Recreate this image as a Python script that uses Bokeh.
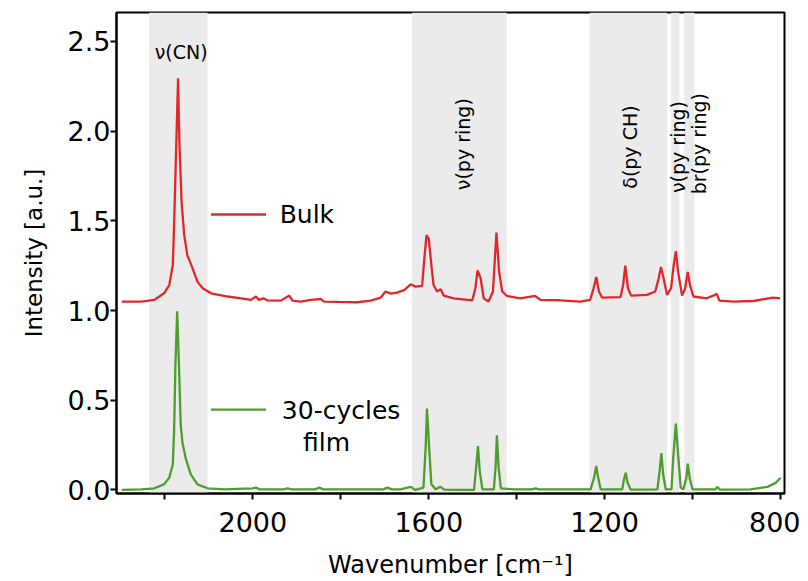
import math
from bokeh.plotting import figure
from bokeh.models import Range1d, BoxAnnotation, Label, FixedTicker, PrintfTickFormatter
from bokeh.embed import file_html
from bokeh.resources import INLINE

# ---------------- data ----------------
bulk_wn = [2298, 2254, 2224, 2202, 2190, 2182, 2179, 2175, 2170, 2167, 2162, 2156, 2149, 2137,
           2126, 2114, 2095, 2057, 2027, 2004, 1993, 1986, 1976, 1967, 1936, 1917, 1910, 1891,
           1868, 1845, 1838, 1807, 1762, 1732, 1709, 1698, 1686, 1672, 1656, 1641, 1630, 1615,
           1610, 1605, 1600, 1594, 1589, 1581, 1573, 1566, 1543, 1501, 1494, 1489, 1482, 1475,
           1464, 1454, 1446, 1440, 1433, 1422, 1392, 1358, 1346, 1301, 1255, 1233, 1225, 1219,
           1213, 1206, 1164, 1158, 1153, 1147, 1140, 1104, 1085, 1077, 1072, 1066, 1058, 1049,
           1043, 1038, 1033, 1024, 1017, 1011, 1006, 998, 968, 949, 945, 939, 907, 862, 817, 801]
bulk_int = [1.050, 1.050, 1.059, 1.096, 1.142, 1.253, 1.476, 1.846, 2.294, 1.939, 1.606, 1.420, 1.309, 1.235,
            1.161, 1.124, 1.096, 1.078, 1.068, 1.059, 1.078, 1.059, 1.068, 1.057, 1.055, 1.083, 1.055, 1.050,
            1.059, 1.064, 1.050, 1.048, 1.046, 1.055, 1.072, 1.106, 1.094, 1.100, 1.114, 1.146, 1.133, 1.137,
            1.290, 1.420, 1.400, 1.253, 1.142, 1.106, 1.118, 1.083, 1.068, 1.057, 1.124, 1.224, 1.180, 1.068,
            1.050, 1.106, 1.435, 1.217, 1.106, 1.081, 1.068, 1.081, 1.059, 1.057, 1.050, 1.059, 1.124, 1.187,
            1.106, 1.072, 1.074, 1.142, 1.250, 1.124, 1.083, 1.087, 1.106, 1.180, 1.242, 1.180, 1.087, 1.124,
            1.253, 1.331, 1.217, 1.083, 1.124, 1.215, 1.142, 1.078, 1.068, 1.087, 1.093, 1.055, 1.050, 1.053, 1.072, 1.068]

film_wn = [2298, 2254, 2224, 2202, 2190, 2182, 2179, 2176, 2172, 2168, 2164, 2160, 2152, 2141,
           2126, 2103, 2065, 2001, 1993, 1985, 1930, 1921, 1912, 1858, 1849, 1840, 1760, 1704,
           1694, 1684, 1664, 1641, 1630, 1612, 1607,
           1604, 1599, 1594, 1584, 1574, 1565, 1497, 1493, 1488, 1484, 1478, 1452, 1448, 1445,
           1441, 1436, 1406, 1365, 1357, 1349, 1232, 1224, 1219, 1214, 1209, 1160, 1156, 1152, 1148, 1141,
           1080, 1075, 1071, 1067, 1061, 1048, 1044, 1038, 1033, 1027, 1021, 1014, 1011, 1006,
           1000, 948, 944, 938, 868, 830, 811, 800]
film_int = [0.000, 0.003, 0.009, 0.031, 0.068, 0.142, 0.328, 0.698, 0.995, 0.698, 0.364, 0.263, 0.170, 0.087,
            0.031, 0.009, 0.003, 0.009, 0.013, 0.003, 0.003, 0.009, 0.003, 0.003, 0.013, 0.003, 0.003, 0.003,
            0.013, 0.003, 0.003, 0.017, 0.000, 0.013, 0.235,
            0.453, 0.235, 0.031, 0.003, 0.018, 0.002, 0.000, 0.105, 0.244, 0.105, 0.003, 0.003, 0.124, 0.305,
            0.124, 0.009, 0.003, 0.003, 0.009, 0.003, 0.003, 0.068, 0.133, 0.059, 0.003, 0.003, 0.059, 0.096, 0.041, 0.002,
            0.003, 0.105, 0.205, 0.087, 0.003, 0.003, 0.180, 0.370, 0.198, 0.013, 0.003, 0.068, 0.146, 0.059,
            0.003, 0.003, 0.017, 0.002, 0.003, 0.017, 0.039, 0.068]

band_left = [2236, 1638, 1234, 1049, 1019]
band_right = [2103, 1423, 1058, 1030, 996]
band_labels = ["ν(CN)", "ν(py ring)", "δ(py CH)", "ν(py ring)", "br(py ring)"]

series_names = ["Bulk", "30-cycles", "film"]
x_ticks = [2000, 1600, 1200, 800]
x_minor_ticks = [2200, 1800, 1400, 1000]
y_ticks = [0.0, 0.5, 1.0, 1.5, 2.0, 2.5]

# ---------------- styling ----------------
RED = "#e2272b"
GREEN = "#4f9c2f"
BAND = "#ebebeb"
FONT = "DejaVu Sans"

p = figure(width=800, height=581, output_backend="svg", toolbar_location=None,
           x_range=Range1d(2310, 791), y_range=Range1d(-0.02, 2.661))
p.min_border_left = 116
p.min_border_right = 16
p.min_border_top = 12
p.min_border_bottom = 87
p.background_fill_color = "white"
p.border_fill_color = "white"
p.outline_line_color = "black"
p.outline_line_width = 2
p.grid.visible = False

for l, r in zip(band_left, band_right):
    p.add_layout(BoxAnnotation(left=l, right=r, fill_color=BAND, fill_alpha=1.0,
                               line_color=None, level="underlay"))

p.line(bulk_wn, bulk_int, line_color=RED, line_width=2.3)
p.line(film_wn, film_int, line_color=GREEN, line_width=2.3)

# axes
p.xaxis.ticker = FixedTicker(ticks=x_ticks, minor_ticks=x_minor_ticks)
p.yaxis.ticker = FixedTicker(ticks=y_ticks)
p.yaxis.formatter = PrintfTickFormatter(format="%.1f")
for ax in (p.xaxis, p.yaxis):
    ax.axis_line_width = 2
    ax.major_tick_line_width = 2
    ax.minor_tick_line_width = 2
    ax.major_tick_in = 0
    ax.minor_tick_in = 0
    ax.major_label_text_font = FONT
    ax.major_label_text_font_size = "27px"
    ax.major_label_text_color = "black"
    ax.axis_label_text_font = FONT
    ax.axis_label_text_font_size = "24px"
    ax.axis_label_text_font_style = "normal"
    ax.axis_label_text_color = "black"
p.yaxis.axis_label_text_font_size = "23px"
p.xaxis.major_tick_out = 6
p.xaxis.minor_tick_out = 6
p.yaxis.major_tick_out = 6
p.yaxis.minor_tick_out = 0
p.xaxis.major_label_standoff = 12
p.yaxis.major_label_standoff = 0
p.xaxis.axis_label = "Wavenumber [cm⁻¹]"
p.yaxis.axis_label = "Intensity [a.u.]"
p.xaxis.axis_label_standoff = 16
p.yaxis.axis_label_standoff = 18

# band labels
lab_x = [2163, 1521, 1143, 1034, 986]
lab_y = [2.44, 1.927, 1.911, 1.911, 1.93]
lab_ang = [0, math.pi / 2, math.pi / 2, math.pi / 2, math.pi / 2]
for t, x, y, a in zip(band_labels, lab_x, lab_y, lab_ang):
    p.add_layout(Label(x=x, y=y, text=t, angle=a, text_align="center", text_baseline="middle",
                       text_font=FONT, text_font_size="19px", text_color="black"))

# in-plot legend
p.line([2095, 1970], [1.535, 1.535], line_color=RED, line_width=2.3)
p.line([2095, 1970], [0.448, 0.448], line_color=GREEN, line_width=2.3)
for t, x, y in zip(series_names, [1939, 1934, 1886], [1.535, 0.44, 0.263]):
    p.add_layout(Label(x=x, y=y, text=t, text_align="left", text_baseline="middle",
                       text_font=FONT, text_font_size="25px", text_color="black"))

open("out.html", "w").write(file_html(p, INLINE))
